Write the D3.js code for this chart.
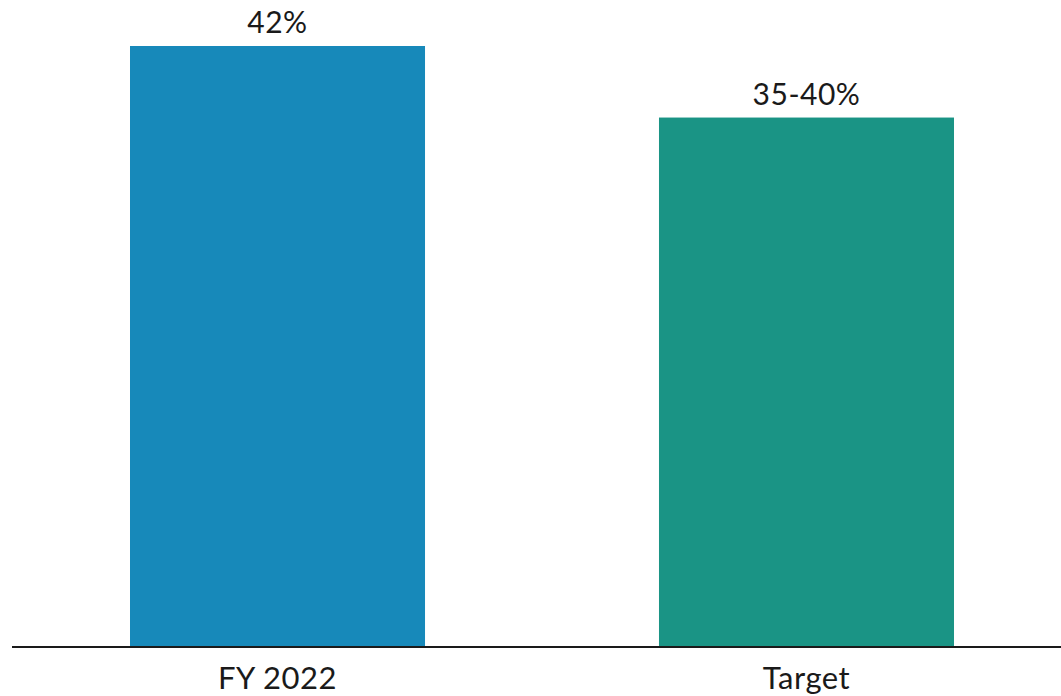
<!DOCTYPE html>
<html>
<head>
<meta charset="utf-8">
<script src="https://cdn.jsdelivr.net/npm/d3@7"></script>
<style>
  html, body { margin: 0; padding: 0; background: #ffffff; }
  svg { display: block; }
  text { font-family: Lato, "Noto Sans", sans-serif; fill: #1a1a1a; }
</style>
</head>
<body>
<svg id="chart" width="1061" height="696"></svg>
<script>
const categories = ["FY 2022", "Target"];
const values = [42, 37];
const valueLabels = ["42%", "35-40%"];
const colors = ["#1789BA", "#1A9485"];

const svg = d3.select("#chart");
const W = 1061, H = 696;
const baseY = 647, topY = 46;

const x = d3.scaleBand()
  .domain(categories)
  .range([24.2, 1059.8])
  .paddingInner(0.4423)
  .paddingOuter(0.2);

const y = d3.scaleLinear()
  .domain([0, d3.max(values)])
  .range([baseY, topY]);

const data = categories.map((c, i) => ({ c, v: values[i], label: valueLabels[i], color: colors[i] }));

svg.selectAll("rect.bar")
  .data(data)
  .join("rect")
  .attr("class", "bar")
  .attr("x", d => x(d.c))
  .attr("y", d => y(d.v))
  .attr("width", x.bandwidth())
  .attr("height", d => y(0) - y(d.v))
  .attr("fill", d => d.color);

svg.selectAll("text.val")
  .data(data)
  .join("text")
  .attr("class", "val")
  .attr("x", d => x(d.c) + x.bandwidth() / 2)
  .attr("y", d => y(d.v) - 13)
  .attr("text-anchor", "middle")
  .attr("font-size", 30)
  .style("letter-spacing", "0.5px")
  .text(d => d.label);

// x axis
const axis = d3.axisBottom(x).tickSize(0).tickPadding(20);
const gx = svg.append("g")
  .attr("transform", `translate(0,${baseY})`)
  .call(axis);
gx.select(".domain").remove();
gx.selectAll("text")
  .attr("font-size", 31)
  .attr("fill", "#1a1a1a")
  .style("letter-spacing", "0.5px")
  .style("font-family", "Lato, 'Noto Sans', sans-serif");

svg.append("line")
  .attr("x1", 12).attr("x2", W)
  .attr("y1", baseY).attr("y2", baseY)
  .attr("stroke", "#1a1a1a")
  .attr("stroke-width", 2);
</script>
</body>
</html>
